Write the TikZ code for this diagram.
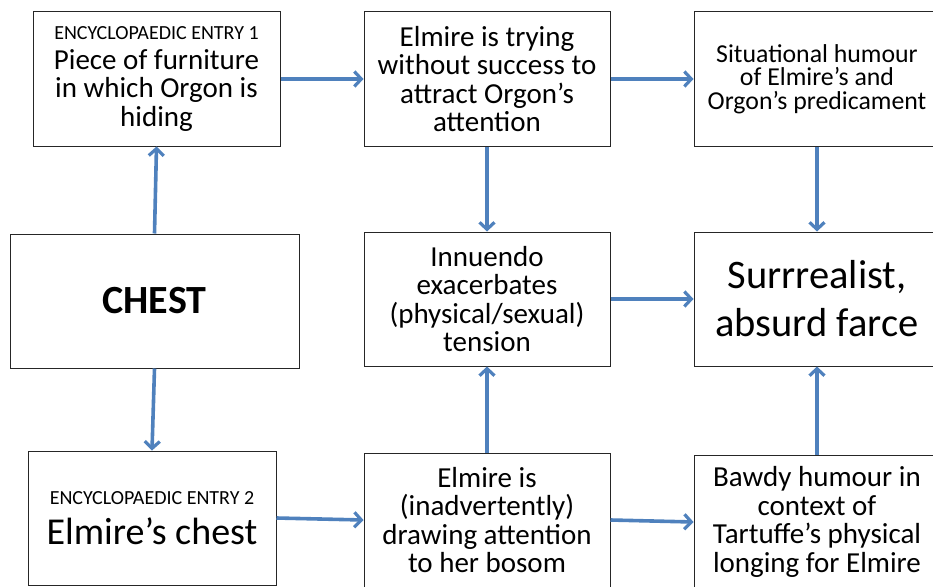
\documentclass[tikz,border=0pt]{standalone}
\usepackage{fontspec}
\setmainfont{Carlito}
\usetikzlibrary{arrows.meta}
\definecolor{flowblue}{HTML}{4F81BD}
\begin{document}
\begin{tikzpicture}[x=1pt,y=-1pt,
  box/.style={draw=black!85, line width=1pt, fill=white, inner sep=0pt,
    minimum width=246pt, minimum height=134pt, align=center,
    font=\fontsize{29}{28.5}\selectfont},
  flow/.style={draw=flowblue, line width=3.6pt,
    -{Straight Barb[length=7pt,width=15pt,line width=3.2pt]}}]
\useasboundingbox (0,0) rectangle (933,586);
\begin{scope}
\clip (0,0) rectangle (933,586);
% top row
\node[box, minimum width=247pt] (enc1) at (156.5,79)
  {{\fontsize{20}{22}\selectfont ENCYCLOPAEDIC ENTRY 1}\\[1pt]Piece of furniture\\in which Orgon is\\hiding};
\node[box] (trying) at (487,79)
  {Elmire is trying\\without success to\\attract Orgon’s\\attention};
\node[box, font=\fontsize{25.8}{23.5}\selectfont] (situ) at (817,79)
  {Situational humour\\of Elmire’s and\\Orgon’s predicament};
% middle row
\node[box, minimum width=289pt, font=\fontsize{40}{44}\bfseries\selectfont] (chest) at (154.5,301) {CHEST};
\node[box] (innuendo) at (487,299)
  {Innuendo\\exacerbates\\(physical/sexual)\\tension};
\node[box, font=\fontsize{40.5}{48}\selectfont] (farce) at (817,299)
  {Surrrealist,\\absurd farce};
% bottom row
\node[box, minimum width=248pt] (enc2) at (152,518)
  {{\fontsize{20}{22}\selectfont ENCYCLOPAEDIC ENTRY 2}\\[12pt]{\fontsize{38}{40}\selectfont Elmire’s chest}};
\node[box] (bosom) at (487,520)
  {Elmire is\\(inadvertently)\\drawing attention\\to her bosom};
\node[box] (bawdy) at (817,522)
  {Bawdy humour in\\context of\\Tartuffe’s physical\\longing for Elmire};
\end{scope}
% connectors
\draw[flow] (chest.north) -- (enc1.south);
\draw[flow] (chest.south) -- (enc2.north);
\draw[flow] (enc1.east) -- (trying.west);
\draw[flow] (trying.east) -- (situ.west);
\draw[flow] (trying.south) -- (innuendo.north);
\draw[flow] (situ.south) -- (farce.north);
\draw[flow] (innuendo.east) -- (farce.west);
\draw[flow] (enc2.east) -- (bosom.west);
\draw[flow] (bosom.east) -- (bawdy.west);
\draw[flow] (bosom.north) -- (innuendo.south);
\draw[flow] (bawdy.north) -- (farce.south);
\end{tikzpicture}
\end{document}
